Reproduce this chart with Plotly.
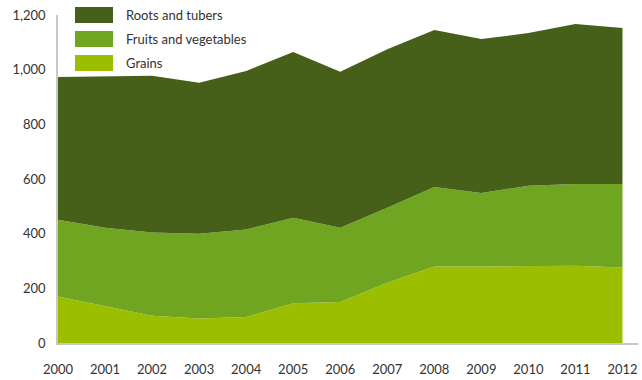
import plotly.graph_objects as go

# values (stacked area)
years = [2000, 2001, 2002, 2003, 2004, 2005, 2006, 2007, 2008, 2009, 2010, 2011, 2012]
grains = [170, 135, 100, 90, 95, 145, 150, 220, 280, 280, 282, 283, 276]
fruits_veg = [281, 287, 304, 310, 320, 313, 272, 275, 291, 269, 293, 299, 306]
roots_tubers = [522, 553, 574, 552, 580, 607, 570, 580, 574, 563, 559, 585, 570]

y_ticks = [0, 200, 400, 600, 800, 1000, 1200]
y_labels = ["0", "200", "400", "600", "800", "1,000", "1,200"]

series = [
    ("Grains", grains, "#9bbf00"),
    ("Fruits and vegetables", fruits_veg, "#6fa521"),
    ("Roots and tubers", roots_tubers, "#46601a"),
]

fig = go.Figure()
for name, vals, col in series:
    fig.add_trace(go.Scatter(
        x=years, y=vals, name=name, mode="lines",
        stackgroup="one", line=dict(width=0, color=col),
        fillcolor=col, showlegend=False,
    ))

# hand drawn legend (top left, roots first)
legend_rows = [("Roots and tubers", "#46601a"), ("Fruits and vegetables", "#6fa521"), ("Grains", "#9bbf00")]
for i, (name, col) in enumerate(legend_rows):
    top = 7 + i * 24
    y1 = (343 - top) / 328
    y0 = (343 - top - 16) / 328
    fig.add_shape(type="rect", xref="paper", yref="paper",
                  x0=0.0293, x1=0.0948, y0=y0, y1=y1,
                  fillcolor=col, line=dict(width=0))
    fig.add_annotation(xref="paper", yref="paper", x=0.1138, y=(y0 + y1) / 2,
                       text=name, showarrow=False, xanchor="left", yanchor="middle",
                       font=dict(family="Lato", size=13, color="#333333"))

fig.update_layout(
    width=642, height=380,
    margin=dict(l=58, r=4, t=15, b=37),
    plot_bgcolor="white", paper_bgcolor="white",
    font=dict(family="Lato", size=13, color="#333333"),
    showlegend=False,
)
fig.update_xaxes(range=[2000, 2012.33], tickvals=years, ticktext=[str(y) for y in years],
                 showgrid=False, zeroline=False, showline=True, linecolor="#c8c8c8",
                 linewidth=1.5, ticks="", ticklabelstandoff=14)
fig.update_yaxes(range=[0, 1200], tickvals=y_ticks, ticktext=y_labels,
                 showgrid=False, zeroline=False, showline=True, linecolor="#c8c8c8",
                 linewidth=1.5, ticks="", ticklabelstandoff=8)

# page body has a default margin, drop it so the chart sits at 0,0
fig.write_html("out.html", config={"displayModeBar": False},
               post_script="document.body.style.margin='0px';document.body.style.overflow='hidden';")
